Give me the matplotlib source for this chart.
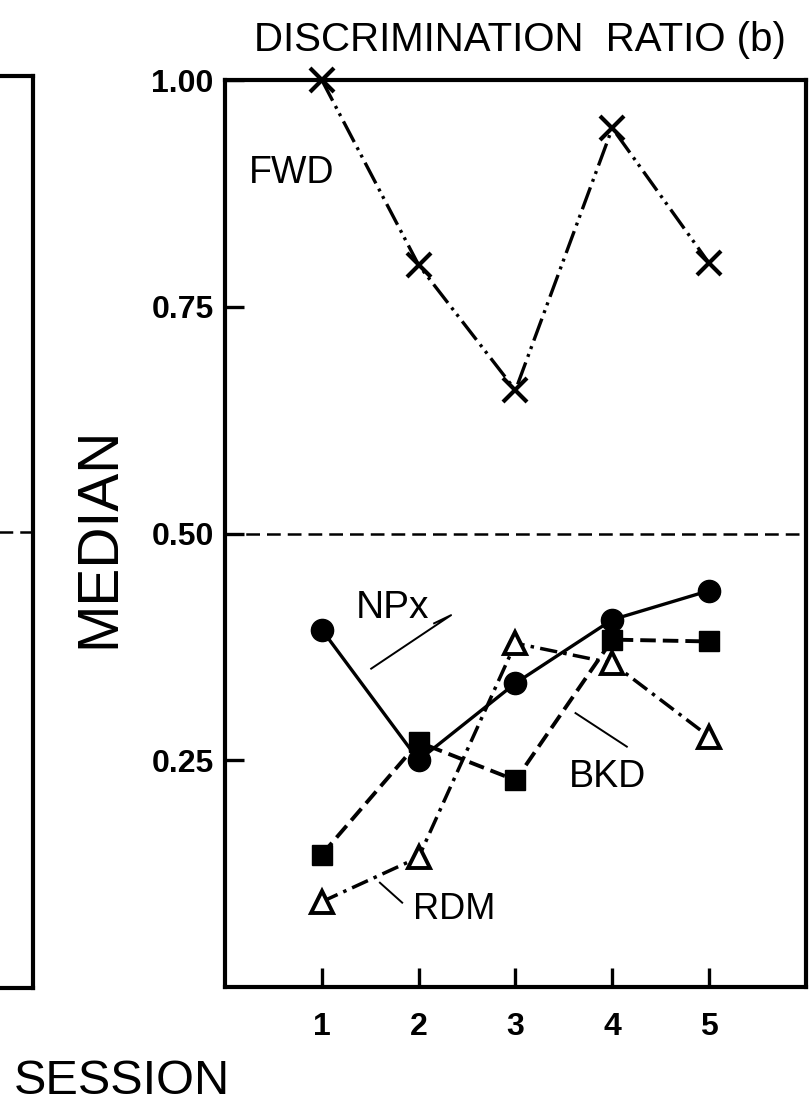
import matplotlib
matplotlib.use("Agg")
import matplotlib.pyplot as plt

plt.rcParams['font.family'] = ['Liberation Sans', 'DejaVu Sans']

# data
sessions = [1, 2, 3, 4, 5]
fwd = [1.00, 0.796, 0.658, 0.947, 0.798]
npx = [0.394, 0.250, 0.335, 0.405, 0.437]
bkd = [0.146, 0.270, 0.228, 0.383, 0.381]
rdm = [0.094, 0.143, 0.379, 0.357, 0.276]
yticks = [0.25, 0.50, 0.75, 1.00]
ytick_labels = ['0.25', '0.50', '0.75', '1.00']

fig = plt.figure(figsize=(8.11, 11.13), dpi=100)

# partial neighbouring panel (cut off on the left)
axl = fig.add_axes([-0.5, 0.1123, 0.5407, 0.8194])
axl.set_xlim(0, 1)
axl.set_ylim(0, 1)
axl.axhline(0.5, color='black', lw=1.8, ls=(0, (5.5, 2.8)))
axl.set_xticks([])
axl.set_yticks([])
for s in axl.spines.values():
    s.set_linewidth(3)

ax = fig.add_axes([0.2774, 0.1132, 0.7164, 0.8149])
ax.set_xlim(0, 6)
ax.set_ylim(0, 1.0)
for s in ax.spines.values():
    s.set_linewidth(3)

ax.axhline(0.5, color='black', lw=1.8, ls=(0, (5.5, 2.8)), zorder=1)

ax.plot(sessions, fwd, color='black', lw=2.4, ls=(0, (7, 1.8, 0.9, 1.6, 0.9, 1.8)),
        marker='x', ms=17, mew=3, zorder=3, clip_on=False)
ax.plot(sessions, rdm, color='black', lw=2.5, ls=(0, (5, 1.8, 1, 1.8)),
        marker='^', ms=16, mfc='white', mec='black', mew=2.8, zorder=3)
ax.plot(sessions, bkd, color='black', lw=2.8, ls=(0, (4, 1.8)),
        marker='s', ms=15, mfc='black', mec='black', zorder=4)
ax.plot(sessions, npx, color='black', lw=2.4, ls='-',
        marker='o', ms=16, mfc='black', mec='black', zorder=5)

ax.set_xticks(sessions)
ax.set_xticklabels([str(s) for s in sessions], fontsize=23, fontweight='bold')
ax.set_yticks(yticks)
ax.set_yticklabels(ytick_labels, fontsize=23, fontweight='bold')
ax.tick_params(axis='both', direction='in', length=14, width=2.4)
ax.tick_params(axis='x', pad=18)
ax.tick_params(axis='y', pad=8)

# series labels with leader lines
ax.text(0.69, 0.897, 'FWD', fontsize=27, ha='center', va='center')
ax.text(1.73, 0.418, 'NPx', fontsize=28, ha='center', va='center')
ax.plot([1.51, 2.335, 2.16], [0.351, 0.410, 0.401], color='black', lw=1.4)
ax.text(3.95, 0.232, 'BKD', fontsize=27, ha='center', va='center')
ax.plot([3.62, 4.15], [0.302, 0.265], color='black', lw=1.4)
ax.text(2.37, 0.085, 'RDM', fontsize=26, ha='center', va='center')
ax.plot([1.60, 1.83], [0.115, 0.093], color='black', lw=1.4)

fig.text(0.641, 0.964, 'DISCRIMINATION  RATIO (b)', fontsize=29,
         ha='center', va='center')
fig.text(0.123, 0.517, 'MEDIAN', fontsize=41, rotation=90,
         ha='center', va='center')
fig.text(0.150, 0.028, 'SESSION', fontsize=35, ha='center', va='center')

fig.savefig('out.png', dpi=100)
